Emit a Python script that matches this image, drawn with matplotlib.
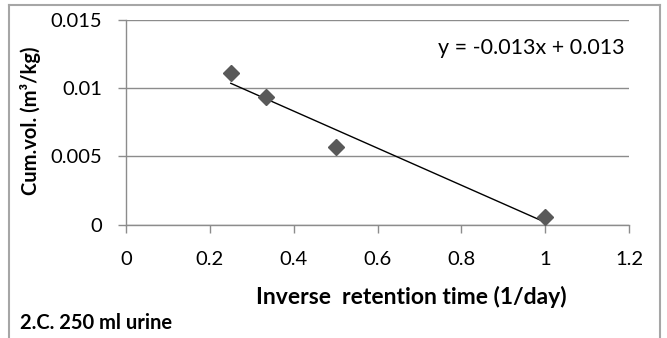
import numpy as np
import matplotlib
matplotlib.use("Agg")
import matplotlib.pyplot as plt
from matplotlib.lines import Line2D

# Data
x_vals = [0.25, 0.333, 0.5, 1.0]
y_vals = [0.0111, 0.00933, 0.00571, 0.00057]
x_ticks = [0, 0.2, 0.4, 0.6, 0.8, 1, 1.2]
x_ticklabels = ["0", "0.2", "0.4", "0.6", "0.8", "1", "1.2"]
y_ticks = [0, 0.005, 0.01, 0.015]
y_ticklabels = ["0", "0.005", "0.01", "0.015"]
equation = "y = -0.013x + 0.013"

W, H = 667, 338
fig = plt.figure(figsize=(W / 100, H / 100), dpi=100)
plt.rcParams['font.family'] = ['Lato', 'DejaVu Sans']

ax = fig.add_axes([126 / W, 1 - 224.5 / H, (629 - 126) / W, (224.5 - 20) / H])
ax.set_xlim(0, 1.2)
ax.set_ylim(0, 0.015)

grid_c = '#8c8c8c'
ax.set_yticks(y_ticks)
ax.set_yticklabels(y_ticklabels)
ax.set_xticks(x_ticks)
ax.set_xticklabels(x_ticklabels)
ax.yaxis.grid(True, color=grid_c, linewidth=1.0)
ax.set_axisbelow(True)
for s in ['top', 'right']:
    ax.spines[s].set_visible(False)
for s in ['left', 'bottom']:
    ax.spines[s].set_color(grid_c)
    ax.spines[s].set_linewidth(1.0)
ax.tick_params(axis='both', direction='out', length=6, width=1.0, color=grid_c,
               labelsize=14.5, labelcolor='#000000')
ax.tick_params(axis='y', pad=11)
ax.tick_params(axis='x', pad=13)

# scatter
ax.plot(x_vals, y_vals, linestyle='none', marker='D', markersize=8,
        color='#595959', zorder=3, clip_on=False)

# trendline
coef = np.polyfit(x_vals, y_vals, 1)
xt = np.array([min(x_vals), max(x_vals)])
ax.plot(xt, np.polyval(coef, xt), color='#000000', linewidth=1.0, zorder=2)

fig.text(625 / W, 1 - 48 / H, equation, ha='right', va='center', fontsize=15.5)

fig.text(31 / W, 1 - 121 / H, "Cum.vol. (m³/kg)", rotation=90, ha='center',
         va='center', fontsize=14.5, fontweight='bold')
fig.text(411 / W, 1 - 297 / H, "Inverse  retention time (1/day)", ha='center',
         va='center', fontsize=16.5, fontweight='bold')
fig.text(20 / W, 1 - 323 / H, "2.C. 250 ml urine", ha='left', va='center',
         fontsize=14.5, fontweight='bold')

# chart border
bc = '#a6a6a6'
fig.add_artist(Line2D([9 / W, 9 / W], [0, 1 - 5 / H], transform=fig.transFigure, color=bc, linewidth=1.5))
fig.add_artist(Line2D([9 / W, 660 / W], [1 - 5 / H, 1 - 5 / H], transform=fig.transFigure, color=bc, linewidth=1.5))
fig.add_artist(Line2D([660 / W, 660 / W], [0, 1 - 5 / H], transform=fig.transFigure, color=bc, linewidth=1.5))

fig.savefig("out.png", dpi=100)
